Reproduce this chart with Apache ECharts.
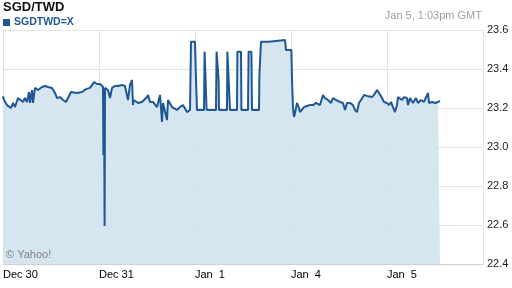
<!DOCTYPE html>
<html>
<head>
<meta charset="utf-8">
<script src="https://cdn.jsdelivr.net/npm/echarts@6/dist/echarts.min.js"></script>
<style>html,body{margin:0;padding:0;background:#fff}#c{width:512px;height:288px}</style>
</head>
<body>
<div id="c"></div>
<script>
// Day labels (each trading day spans 24 hours on the axis)
var dayLabels = ["Dec 30", "Dec 31", "Jan  1", "Jan  4", "Jan  5"];
// Hours since start of Dec 30 (trading-time axis)
var hours = [
  0, 0.25, 1, 1.5, 2, 2.5, 3, 3.75, 4.25, 5, 5.5, 6, 6.5, 6.75, 7.25, 7.5, 8, 8.75, 9.75, 10.5,
  11.25, 12.25, 13, 13.5, 14.25, 15, 15.75, 16.25, 17, 17.5, 18.5, 19.75, 20.75, 21.75, 22.25, 22.75, 23.5, 24, 24.25, 25,
  25.1, 25.25, 25.4, 25.5, 26.25, 26.75, 27.25, 28, 28.75, 29.75, 30.5, 31, 31.25, 31.75, 32.25, 32.5, 32.6, 33, 33.75, 34.75,
  36, 36.25, 36.75, 37.5, 38.5, 39.25, 39.75, 40, 41, 41.25, 42.25, 42.5, 43.5, 44.25, 45, 46, 46.25, 46.75, 47, 48,
  48.25, 48.5, 50.25, 50.4, 50.75, 50.9, 53.25, 53.4, 53.75, 53.9, 54, 56, 56.1, 56.6, 56.75, 58.5, 58.6, 59.5, 59.6, 61.25,
  61.4, 62.1, 62.25, 64, 64.1, 64.5, 66.5, 66.6, 70.5, 70.75, 72.1, 72.25, 72.5, 72.75, 73, 73.5, 74, 74.25, 74.75, 75.25,
  75.75, 76.75, 77.5, 78.25, 79.25, 80, 80.5, 81.25, 82, 82.5, 83.25, 84.25, 85, 85.5, 86, 86.75, 87.5, 88, 88.5, 89,
  89.5, 90.25, 91, 91.25, 92.25, 92.75, 93.5, 94, 94.75, 95.25, 96, 96.5, 97, 97.5, 98, 98.5, 98.75, 99.75, 100.25, 101,
  101.25, 101.75, 102.5, 103.25, 103.75, 104.5, 105.25, 106.25, 106.5, 107.25, 108, 108.75, 109.25
];
// SGD/TWD rate at each of those times
var rates = [
  23.260, 23.241, 23.215, 23.205, 23.200, 23.226, 23.205, 23.251, 23.241, 23.231, 23.251, 23.231, 23.282, 23.226, 23.292, 23.226, 23.303, 23.292, 23.308, 23.313,
  23.308, 23.303, 23.277, 23.251, 23.256, 23.241, 23.231, 23.251, 23.282, 23.282, 23.277, 23.282, 23.297, 23.303, 23.303, 23.333, 23.323, 23.328, 23.323, 23.308,
  22.959, 23.303, 22.595, 23.303, 23.292, 23.251, 23.303, 23.313, 23.313, 23.318, 23.313, 23.308, 23.241, 23.318, 23.344, 23.215, 23.241, 23.231, 23.226, 23.231,
  23.256, 23.267, 23.231, 23.231, 23.205, 23.267, 23.128, 23.226, 23.138, 23.241, 23.205, 23.205, 23.190, 23.205, 23.215, 23.179, 23.174, 23.190, 23.540, 23.540,
  23.344, 23.190, 23.190, 23.489, 23.489, 23.190, 23.190, 23.489, 23.489, 23.344, 23.190, 23.190, 23.489, 23.489, 23.190, 23.190, 23.489, 23.489, 23.190, 23.190,
  23.489, 23.489, 23.190, 23.190, 23.369, 23.540, 23.540, 23.549, 23.549, 23.497, 23.497, 23.344, 23.200, 23.154, 23.174, 23.226, 23.200, 23.179, 23.174, 23.205,
  23.205, 23.215, 23.215, 23.226, 23.215, 23.267, 23.251, 23.241, 23.226, 23.251, 23.241, 23.231, 23.226, 23.190, 23.226, 23.226, 23.215, 23.190, 23.179, 23.226,
  23.241, 23.267, 23.262, 23.267, 23.256, 23.267, 23.292, 23.277, 23.251, 23.231, 23.226, 23.215, 23.231, 23.205, 23.179, 23.215, 23.256, 23.241, 23.256, 23.251,
  23.215, 23.251, 23.226, 23.251, 23.226, 23.241, 23.231, 23.277, 23.226, 23.231, 23.226, 23.231, 23.236
];
var yTicks = [22.4, 22.6, 22.8, 23.0, 23.2, 23.4, 23.6];

var data = hours.map(function (h, i) { return [h, rates[i]]; });
var chart = echarts.init(document.getElementById('c'), null, {renderer: 'canvas'});
var font = 'Arial, "Liberation Sans", sans-serif';
chart.setOption({
  animation: false,
  backgroundColor: '#fff',
  title: {
    text: 'SGD/TWD', left: 3, top: 1, padding: 0,
    textStyle: {fontFamily: font, fontSize: 13, fontWeight: 'bold', color: '#111'}
  },
  legend: {
    left: 3, top: 17, padding: 0, itemWidth: 7, itemHeight: 7, itemGap: 4,
    icon: 'rect',
    data: [{name: 'SGDTWD=X', icon: 'rect'}],
    textStyle: {fontFamily: font, fontSize: 10.5, fontWeight: 'bold', color: '#1f5794', padding: [0, 0, 0, -1]}
  },
  graphic: [
    {type: 'text', right: 30, top: 10, style: {text: 'Jan 5, 1:03pm GMT', font: '11px ' + font, fill: '#a0a0a0'}},
    {type: 'text', left: 6, top: 249, z: 100, style: {text: '\u00a9 Yahoo!', font: '11px ' + font, fill: '#808080'}}
  ],
  grid: {left: 3, right: 29, top: 30, bottom: 24, containLabel: false},
  xAxis: {
    type: 'value', min: 0, max: 120, interval: 24,
    axisLine: {show: true, lineStyle: {color: '#d0d0d0', width: 1}},
    axisTick: {show: false},
    axisLabel: {
      align: 'left', margin: 5, color: '#000', fontFamily: font, fontSize: 11,
      formatter: function (v) { var i = Math.round(v / 24); return i < dayLabels.length ? dayLabels[i] : ''; }
    },
    splitLine: {show: true, lineStyle: {color: '#e4e4e4', width: 1}}
  },
  yAxis: {
    type: 'value', position: 'right', min: 22.4, max: 23.6, interval: 0.2,
    axisLine: {show: true, lineStyle: {color: '#e0e0e0', width: 1}},
    axisTick: {show: true, length: 3, inside: false, lineStyle: {color: '#d8d8d8'}},
    axisLabel: {margin: 4, color: '#222', fontFamily: font, fontSize: 11,
      formatter: function (v) { return v.toFixed(1); }},
    splitLine: {show: true, lineStyle: {color: '#e4e4e4', width: 1}}
  },
  series: [{
    name: 'SGDTWD=X', type: 'line', data: data, showSymbol: false, symbol: 'none',
    color: '#1f5794',
    lineStyle: {color: '#1f5794', width: 2},
    areaStyle: {color: '#d2e3ef', opacity: 0.9, origin: 'start'},
    z: 2
  }]
});
</script>
</body>
</html>
